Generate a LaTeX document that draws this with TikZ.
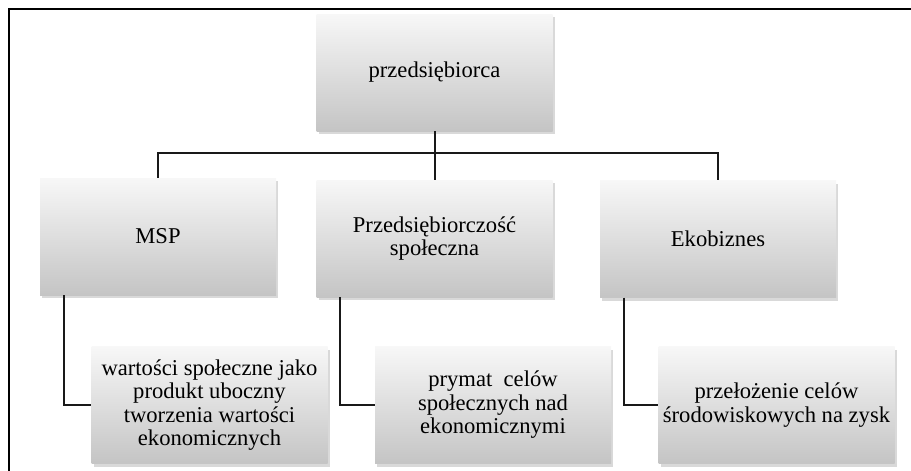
\documentclass[tikz,border=0pt]{standalone}
\usepackage{fontspec}
\setmainfont{Liberation Serif}
\usetikzlibrary{shadows}
\begin{document}
\begin{tikzpicture}[x=1pt,y=-1pt,
  box/.style={rectangle,minimum width=236pt,minimum height=117pt,inner sep=1pt,align=center,
    top color=black!3,bottom color=black!23,
    drop shadow={opacity=0.3,shadow xshift=2pt,shadow yshift=-3pt},
    font=\fontsize{22.6}{23.5}\selectfont,text=black},
  link/.style={draw=black!90,line width=2pt}]
\useasboundingbox (0,0) rectangle (911,471);
\draw[line width=2.3pt] (9,471)--(9,9)--(911,9);

\node[box] (boss) at (434.5,72.5) {przedsiębiorca};
\node[box] (msp) at (158,236.5) {MSP};
\node[box] (spol) at (434.5,238.5) {Przedsiębiorczość\\społeczna};
\node[box] (eko) at (718,239) {Ekobiznes};

\coordinate (bus) at (434.5,153);
\draw[link] (boss)--(spol);
\draw[link] (msp.north)|-(bus)-|(eko.north);

\node[box] (msp2) at (209.5,405) {wartości społeczne jako\\produkt uboczny\\tworzenia wartości\\ekonomicznych};
\node[box] (spol2) at (493,405) {prymat~ celów\\społecznych nad\\ekonomicznymi};
\node[box] (eko2) at (776.5,405) {przełożenie celów\\środowiskowych na zysk};

\draw[link] ([xshift=24pt]msp.south west)|-(msp2.west);
\draw[link] ([xshift=24pt]spol.south west)|-(spol2.west);
\draw[link] ([xshift=24pt]eko.south west)|-(eko2.west);
\end{tikzpicture}
\end{document}
